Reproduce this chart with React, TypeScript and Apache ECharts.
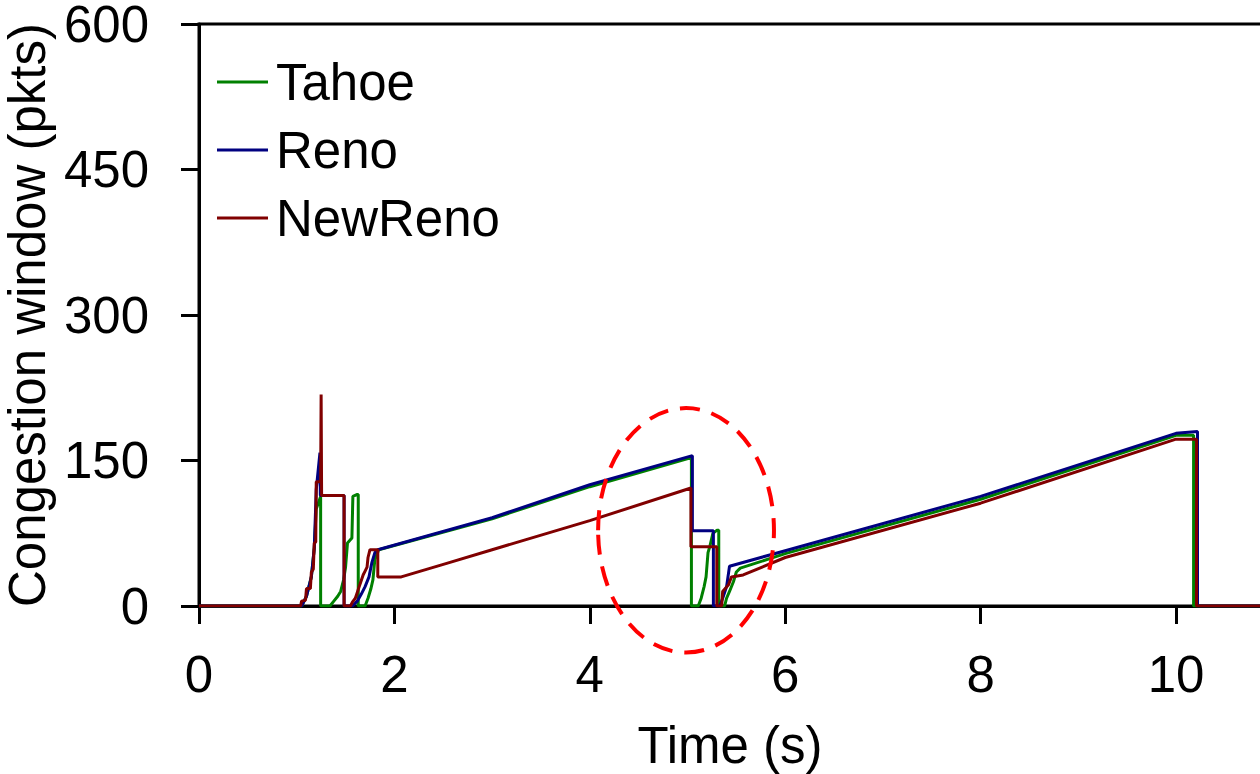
import React, { useEffect, useRef } from "react";
import * as echarts from "echarts";

// ---- data (time in s, congestion window in packets) ----
const seriesNames = ["Tahoe", "Reno", "NewReno"];
const seriesColors = ["#008000", "#000080", "#800000"];

const tahoe: [number, number][] = [
  [0, 0], [1.05, 0], [1.10, 10], [1.15, 30], [1.18, 60], [1.20, 100], [1.245, 113], [1.245, 0],
  [1.34, 0], [1.38, 5], [1.42, 10], [1.45, 15], [1.48, 27], [1.50, 40], [1.52, 65], [1.565, 70],
  [1.575, 113], [1.62, 115], [1.63, 115], [1.63, 0], [1.70, 0], [1.73, 8], [1.76, 18], [1.78, 27],
  [1.80, 48], [1.84, 58], [3, 90], [4, 123], [5.04, 153], [5.04, 0], [5.11, 0], [5.14, 8],
  [5.17, 20], [5.19, 30], [5.21, 55], [5.23, 62], [5.26, 75], [5.30, 78], [5.32, 78], [5.32, 0],
  [5.38, 0], [5.40, 8], [5.43, 15], [5.47, 25], [5.50, 35], [5.54, 39], [6, 54], [8, 110],
  [10, 176], [10.18, 176], [10.18, 0], [12, 0],
];

const reno: [number, number][] = [
  [0, 0], [1.05, 0], [1.10, 10], [1.15, 30], [1.18, 60], [1.20, 120], [1.238, 158], [1.242, 114],
  [1.485, 114], [1.485, 0], [1.57, 0], [1.62, 5], [1.66, 12], [1.70, 20], [1.74, 30], [1.77, 45],
  [1.80, 55], [1.83, 58], [3, 91], [4, 125], [5.05, 155], [5.05, 77.6], [5.265, 77.6], [5.265, 0],
  [5.33, 0], [5.36, 8], [5.40, 20], [5.43, 41], [6, 57], [8, 113], [10, 178], [10.22, 180],
  [10.22, 0], [12, 0],
];

const newReno: [number, number][] = [
  [0, 0], [1.04, 0], [1.05, 5], [1.09, 6], [1.10, 18], [1.14, 18], [1.15, 35], [1.17, 38],
  [1.18, 65], [1.195, 66], [1.20, 128], [1.245, 128], [1.25, 218], [1.255, 114], [1.485, 114],
  [1.485, 0], [1.55, 0], [1.57, 4], [1.60, 8], [1.62, 14], [1.64, 20], [1.66, 26], [1.68, 32],
  [1.70, 36], [1.72, 40], [1.73, 50], [1.75, 58], [1.83, 58], [1.83, 30], [2.07, 30], [2.535, 44],
  [3, 58], [4, 88], [5.035, 121.6], [5.035, 61], [5.30, 61], [5.30, 0], [5.35, 0], [5.36, 15],
  [5.42, 22], [5.45, 30], [5.57, 32], [6, 50], [8, 106], [10, 172], [10.21, 172], [10.21, 0],
  [12, 0],
];

const seriesData = [tahoe, reno, newReno];

const xMin = 0;
const xMax = 12;
const xInterval = 2;
const yMin = 0;
const yMax = 600;
const yInterval = 150;

const xTitle = "Time (s)";
const yTitle = "Congestion window (pkts)";

// highlighted region (data coordinates): centre and half extents
const ellipseCenter: [number, number] = [4.985, 78];
const ellipseHalf: [number, number] = [0.9, 126];

const FONT = "'Liberation Sans', Arial, Helvetica, sans-serif";
const FS = 51;

export default function App() {
  const ref = useRef<HTMLDivElement>(null);

  useEffect(() => {
    if (!ref.current) return;
    const chart = echarts.init(ref.current, null, { renderer: "svg" });

    const axisCommon = {
      axisLine: { show: true, lineStyle: { color: "#000", width: 3 } },
      axisTick: { show: true, inside: false, length: 18, lineStyle: { color: "#000", width: 3 } },
      splitLine: { show: false },
    };

    chart.setOption({
      animation: false,
      backgroundColor: "#fff",
      textStyle: { fontFamily: FONT },
      grid: {
        left: 199,
        top: 24,
        height: 582,
        width: 97.7 * (xMax - xMin),
        outerBoundsMode: "none",
        containLabel: false,
        show: true,
        borderColor: "#000",
        borderWidth: 3,
        backgroundColor: "transparent",
      },
      legend: {
        show: true,
        orient: "vertical",
        left: 217,
        top: 54,
        padding: 0,
        itemGap: 12,
        itemWidth: 51,
        itemHeight: 3,
        icon: "rect",
        selectedMode: false,
        data: seriesNames,
        textStyle: {
          fontFamily: FONT,
          fontSize: FS,
          color: "#000",
          lineHeight: 56,
          padding: [0, 0, 0, 3],
        },
      },
      xAxis: {
        type: "value",
        min: xMin,
        max: xMax,
        interval: xInterval,
        ...axisCommon,
        axisLabel: {
          fontSize: FS,
          color: "#000",
          margin: 43,
          fontFamily: FONT,
          showMaxLabel: false,
        },
      },
      yAxis: {
        type: "value",
        min: yMin,
        max: yMax,
        interval: yInterval,
        ...axisCommon,
        axisLabel: {
          fontSize: FS,
          color: "#000",
          margin: 50,
          fontFamily: FONT,
          lineHeight: 44,
        },
        name: yTitle,
        nameLocation: "middle",
        nameGap: 141,
        nameTextStyle: { fontSize: FS, color: "#000", fontFamily: FONT },
      },
      series: seriesNames.map((name, i) => ({
        name,
        type: "line",
        data: seriesData[i],
        showSymbol: false,
        symbol: "none",
        lineStyle: { color: seriesColors[i], width: 3 },
        itemStyle: { color: seriesColors[i] },
        emphasis: { disabled: true },
      })),
    });

    const c = chart.convertToPixel({ gridIndex: 0 }, ellipseCenter) as number[];
    const e = chart.convertToPixel({ gridIndex: 0 }, [
      ellipseCenter[0] + ellipseHalf[0],
      ellipseCenter[1] + ellipseHalf[1],
    ]) as number[];

    chart.setOption({
      graphic: [
        {
          type: "ellipse",
          shape: { cx: c[0], cy: c[1], rx: Math.abs(e[0] - c[0]), ry: Math.abs(c[1] - e[1]) },
          style: { fill: "none", stroke: "#ff0000", lineWidth: 4, lineDash: [20, 12] },
          z: 100,
        },
        {
          type: "text",
          x: 730,
          y: 745,
          style: {
            text: xTitle,
            fontSize: FS,
            fontFamily: FONT,
            fill: "#000",
            align: "center",
            verticalAlign: "middle",
          },
        },
      ],
    });

    return () => chart.dispose();
  }, []);

  return (
    <div
      ref={ref}
      style={{ position: "fixed", left: 0, top: 0, width: 1260, height: 774, background: "#fff" }}
    />
  );
}
